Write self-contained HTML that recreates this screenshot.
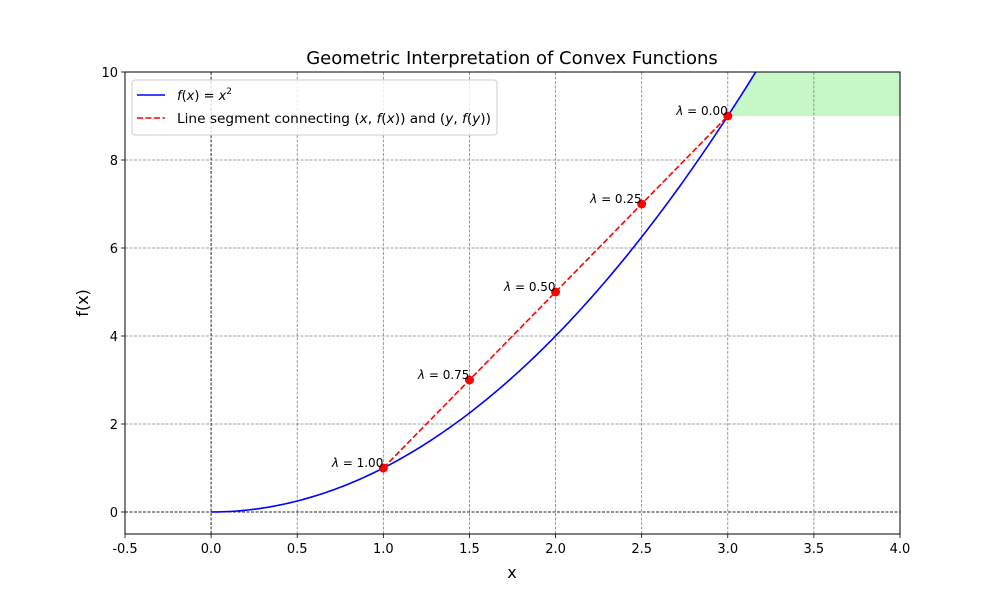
<!DOCTYPE html>
<html><head><meta charset="utf-8"><style>
body{margin:0;background:#fff}
svg{display:block;font-family:"DejaVu Sans","Liberation Sans",sans-serif}
</style></head><body>
<svg id="c" width="1000" height="600"></svg>
<script>
const xTicks=[-0.5,0,0.5,1,1.5,2,2.5,3,3.5,4];
const xTickLabels=["-0.5","0.0","0.5","1.0","1.5","2.0","2.5","3.0","3.5","4.0"];
const yTicks=[0,2,4,6,8,10];
const yTickLabels=["0","2","4","6","8","10"];
const segX=[1,3];
const lambdas=[1.00,0.75,0.50,0.25,0.00];
const fillX=[3,4];
const fillBase=9;
const X0=125,X1=900,Y0=534,Y1=72;
const sx=v=>X0+(v+0.5)/4.5*(X1-X0);
const sy=v=>Y0-(v+0.5)/10.5*(Y0-Y1);
const f=x=>x*x;
const NS="http://www.w3.org/2000/svg";
const svg=document.getElementById('c');
function el(t,a,txt){const e=document.createElementNS(NS,t);for(const k in a)e.setAttribute(k,a[k]);if(txt!=null)e.textContent=txt;svg.appendChild(e);return e;}
const defs=el('defs',{});
const cp=document.createElementNS(NS,'clipPath');cp.setAttribute('id','clip');
const cr=document.createElementNS(NS,'rect');cr.setAttribute('x',X0);cr.setAttribute('y',Y1);cr.setAttribute('width',X1-X0);cr.setAttribute('height',Y0-Y1);
cp.appendChild(cr);defs.appendChild(cp);
let fp=[];
for(let i=0;i<=100;i++){const x=fillX[0]+(fillX[1]-fillX[0])*i/100;fp.push(sx(x)+','+sy(f(x)));}
fp.push(sx(fillX[1])+','+sy(fillBase));fp.push(sx(fillX[0])+','+sy(fillBase));
let e=el('polygon',{points:fp.join(' '),fill:'#90ee90','fill-opacity':0.5,'clip-path':'url(#clip)'});


xTicks.forEach((v,i)=>{
 e=el('line',{x1:sx(v),x2:sx(v),y1:Y1,y2:Y0,stroke:'#808080','stroke-width':0.8,'stroke-dasharray':'3,1.5'});
 
 
 el('line',{x1:sx(v),x2:sx(v),y1:Y0,y2:Y0+4,stroke:'#000','stroke-width':0.8});
 e=el('text',{x:sx(v),y:Y0+19,'font-size':13,'text-anchor':'middle'},xTickLabels[i]);
 
 
});
yTicks.forEach((v,i)=>{
 e=el('line',{x1:X0,x2:X1,y1:sy(v),y2:sy(v),stroke:'#808080','stroke-width':0.8,'stroke-dasharray':'3,1.5'});
 
 
 el('line',{x1:X0-4,x2:X0,y1:sy(v),y2:sy(v),stroke:'#000','stroke-width':0.8});
 e=el('text',{x:X0-7,y:sy(v)+5,'font-size':13,'text-anchor':'end'},yTickLabels[i]);
 
 
});
e=el('line',{x1:X0,x2:X1,y1:sy(0),y2:sy(0),stroke:'#000','stroke-width':0.8,'stroke-dasharray':'3,1.5'});

e=el('line',{x1:sx(0),x2:sx(0),y1:Y1,y2:Y0,stroke:'#000','stroke-width':0.8,'stroke-dasharray':'3,1.5'});

let cpnts=[];
for(let i=0;i<=200;i++){const x=4*i/200;cpnts.push(sx(x)+','+sy(f(x)));}
e=el('polyline',{points:cpnts.join(' '),fill:'none',stroke:'#0000ff','stroke-width':1.6,'clip-path':'url(#clip)'});

e=el('line',{x1:sx(segX[0]),y1:sy(f(segX[0])),x2:sx(segX[1]),y2:sy(f(segX[1])),stroke:'#ff0000','stroke-width':1.6,'stroke-dasharray':'6,2.5'});

lambdas.forEach(l=>{
 const x=l*segX[0]+(1-l)*segX[1],y=l*f(segX[0])+(1-l)*f(segX[1]);
 e=el('circle',{cx:sx(x),cy:sy(y),r:4.5,fill:'#ff0000'});
 
 e=el('text',{x:sx(x),y:sy(y)-1,'font-size':12,'text-anchor':'end'});
 e.innerHTML='<tspan font-style="italic">λ</tspan> = '+l.toFixed(2);
 
});
e=el('rect',{x:X0,y:Y1,width:X1-X0,height:Y0-Y1,fill:'none',stroke:'#000','stroke-width':1});

e=el('text',{x:512,y:64,'font-size':18,'text-anchor':'middle'},'Geometric Interpretation of Convex Functions');

e=el('text',{x:512,y:578,'font-size':16,'text-anchor':'middle'},'x');

e=el('text',{x:0,y:0,'font-size':16,'text-anchor':'middle',transform:'translate(88,303) rotate(-90)'},'f(x)');

e=el('rect',{x:132,y:80,width:365,height:55,rx:3,fill:'#fff','fill-opacity':0.8,stroke:'#ccc','stroke-width':1});

el('line',{x1:137,x2:165,y1:95,y2:95,stroke:'#0000ff','stroke-width':1.6});
e=el('text',{x:177,y:100,'font-size':13});
e.innerHTML='<tspan font-style="italic">f</tspan>(<tspan font-style="italic">x</tspan>) = <tspan font-style="italic">x</tspan><tspan font-size="9" dy="-6">2</tspan>';

el('line',{x1:137,x2:165,y1:118,y2:118,stroke:'#ff0000','stroke-width':1.6,'stroke-dasharray':'6,2.5'});
e=el('text',{x:177,y:123,'font-size':13,textLength:314,lengthAdjust:'spacingAndGlyphs'});
e.innerHTML='Line segment connecting (<tspan font-style="italic">x</tspan>, <tspan font-style="italic">f</tspan>(<tspan font-style="italic">x</tspan>)) and (<tspan font-style="italic">y</tspan>, <tspan font-style="italic">f</tspan>(<tspan font-style="italic">y</tspan>))';

</script>
</body></html>
